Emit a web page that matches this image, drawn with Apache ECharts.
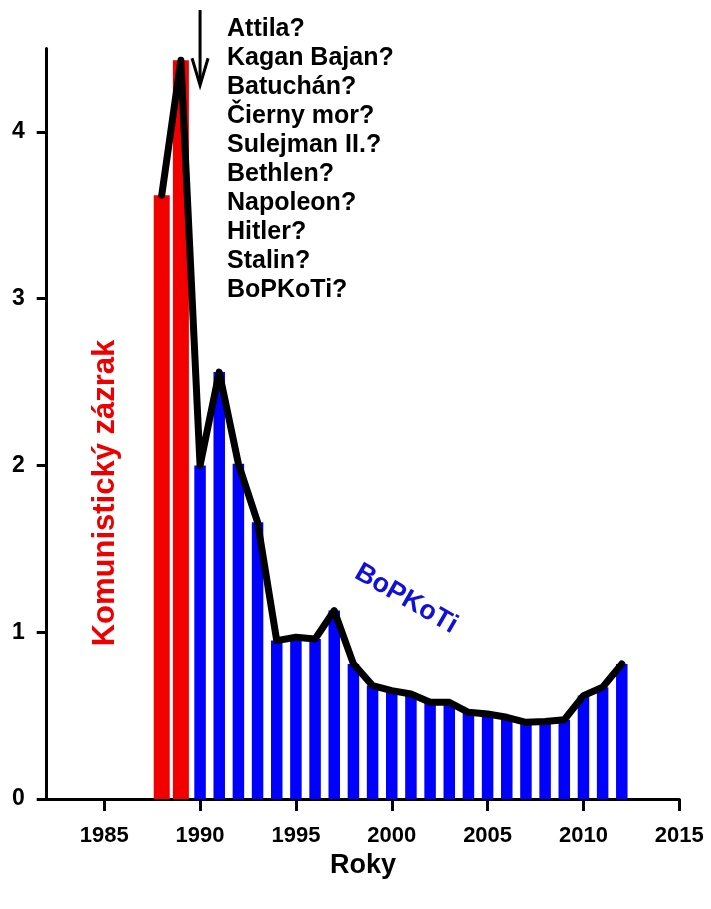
<!DOCTYPE html>
<html><head><meta charset="utf-8">
<script src="https://cdn.jsdelivr.net/npm/echarts@6/dist/echarts.min.js"></script>
<style>html,body{margin:0;padding:0;background:#fff}#c{width:711px;height:909px}</style>
</head><body><div id="c"></div>
<script>
// ---- data ----
const redYears = [1988, 1989];
const redValues = [3.62, 4.43];
const blueYears = [1990, 1991, 1992, 1993, 1994, 1995, 1996, 1997, 1998, 1999, 2000, 2001,
                   2002, 2003, 2004, 2005, 2006, 2007, 2008, 2009, 2010, 2011, 2012];
const blueValues = [2.00, 2.56, 2.01, 1.66, 0.95, 0.97, 0.96, 1.13, 0.81, 0.68, 0.65, 0.63,
                    0.58, 0.58, 0.52, 0.51, 0.49, 0.46, 0.465, 0.475, 0.62, 0.67, 0.81];
const xTickValues = [1985, 1990, 1995, 2000, 2005, 2010, 2015];
const yTickValues = [0, 1, 2, 3, 4];
const xAxisTitle = 'Roky';
const redLabel = 'Komunistický zázrak';
const blueLabel = 'BoPKoTi';
const annotationLines = ['Attila?', 'Kagan Bajan?', 'Batuchán?', 'Čierny mor?', 'Sulejman II.?',
                         'Bethlen?', 'Napoleon?', 'Hitler?', 'Stalin?', 'BoPKoTi?'];
const arrowYear = 1990;

// ---- chart ----
const FONT = "'Liberation Sans', Arial, sans-serif";
const chart = echarts.init(document.getElementById('c'), null, {renderer: 'canvas'});

const redData = redYears.map((y, i) => [y, redValues[i]]);
const blueData = blueYears.map((y, i) => [y, blueValues[i]]);
const lineData = redData.concat(blueData);

const axisCommon = {
  type: 'value', min: 1982, max: 2015
};

chart.setOption({
  animation: false,
  backgroundColor: '#fff',
  grid: {left: 46.7, right: 31.7, top: 48.6, bottom: 110, containLabel: false, outerBoundsMode: 'none'},
  xAxis: [
    Object.assign({}, axisCommon, {
      position: 'bottom',
      splitLine: {show: false},
      axisLine: {show: true, onZero: false, lineStyle: {color: '#000', width: 3}},
      axisTick: {show: true, length: 12, lineStyle: {color: '#000', width: 3}, customValues: xTickValues},
      axisLabel: {show: true, margin: 26, color: '#000', fontFamily: FONT, fontWeight: 'bold', fontSize: 22,
                  customValues: xTickValues, formatter: v => String(v)},
      name: xAxisTitle, nameLocation: 'middle', nameGap: 52,
      nameTextStyle: {color: '#000', fontFamily: FONT, fontWeight: 'bold', fontSize: 27}
    }),
    Object.assign({}, axisCommon, {show: false})
  ],
  yAxis: {
    type: 'value', min: 0, max: 4.5,
    splitLine: {show: false},
    axisLine: {show: true, onZero: false, lineStyle: {color: '#000', width: 3}},
    axisTick: {show: true, length: 10, lineStyle: {color: '#000', width: 3}, customValues: yTickValues},
    axisLabel: {show: true, margin: 22, color: '#000', fontFamily: FONT, fontWeight: 'bold', fontSize: 23,
                customValues: yTickValues, formatter: v => String(v)}
  },
  series: [
    {type: 'bar', xAxisIndex: 1, data: redData, barWidth: 16, itemStyle: {color: '#f20000'}, z: 2},
    {type: 'bar', xAxisIndex: 0, data: blueData, barWidth: 11.5, itemStyle: {color: '#0000ff'}, z: 2},
    {type: 'line', xAxisIndex: 0, data: lineData, showSymbol: false, symbol: 'none',
     lineStyle: {color: '#000', width: 7, join: 'round', cap: 'round'}, z: 5}
  ]
});

// annotations positioned from axis scale where they relate to data
const tip = chart.convertToPixel({xAxisIndex: 0, yAxisIndex: 0}, [arrowYear, 4.28]);
const ax = tip[0], ay = tip[1];
chart.setOption({
  graphic: [
    {type: 'line', shape: {x1: ax, y1: 10, x2: ax, y2: ay - 2}, style: {stroke: '#000', lineWidth: 3}, z: 10},
    {type: 'polyline', shape: {points: [[ax - 8, ay - 27], [ax, ay], [ax + 8, ay - 27]]},
     style: {stroke: '#000', lineWidth: 3, fill: null}, z: 10},
    {type: 'text', left: 227, top: 15, z: 10,
     style: {text: annotationLines.join('\n'), fill: '#000', font: "bold 25px " + FONT, lineHeight: 29}},
    {type: 'text', x: 105, y: 493, rotation: Math.PI / 2, z: 10,
     style: {text: redLabel, fill: '#ee0000', font: "bold 31px " + FONT, align: 'center', verticalAlign: 'middle'}},
    {type: 'text', x: 406, y: 599, rotation: -Math.PI / 6, z: 10,
     style: {text: blueLabel, fill: '#1010d8', font: "bold 27px " + FONT, align: 'center', verticalAlign: 'middle'}}
  ]
});
</script>
</body></html>
